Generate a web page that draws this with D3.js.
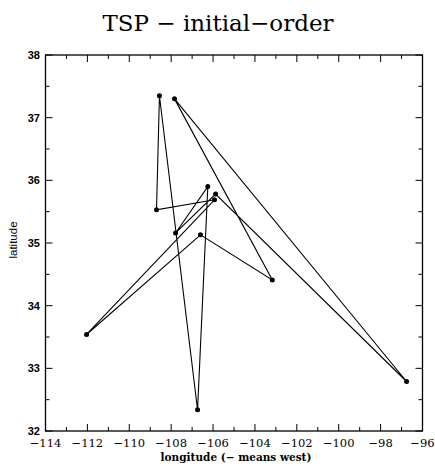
<!DOCTYPE html>
<html><head><meta charset="utf-8">
<script src="https://cdn.jsdelivr.net/npm/d3@7"></script>
<style>body{margin:0;background:#fff}</style>
</head><body>
<svg id="c" width="435" height="466"></svg>
<script>
// Tour order (closed cycle)
const lon = [-108.56, -108.70, -105.93, -112.04, -106.60, -103.17, -107.84, -96.76, -105.88, -107.79, -106.25, -106.74];
const lat = [37.35, 35.53, 35.69, 33.54, 35.13, 34.41, 37.30, 32.79, 35.78, 35.16, 35.90, 32.34];
const xMajor = [-114, -112, -110, -108, -106, -104, -102, -100, -98, -96];
const yMajor = [32, 33, 34, 35, 36, 37, 38];

const svg = d3.select("#c");
const L = 45.5, R = 422.5, T = 55, B = 431;
const x = d3.scaleLinear().domain([-114, -96]).range([L, R]);
const y = d3.scaleLinear().domain([32, 38]).range([B, T]);

const fmt = v => String(v).replace("-", "\u2212");

// frame
svg.append("rect").attr("x", L).attr("y", T).attr("width", R - L).attr("height", B - T)
  .attr("fill", "none").attr("stroke", "#000").attr("stroke-width", 1.3);

const g = svg.append("g");
const xMinor = d3.range(-113, -96, 2);
const yMinor = d3.range(32.5, 38, 1);
const maj = 7, mnr = 4;
xMajor.forEach(v => {
  g.append("line").attr("x1", x(v)).attr("x2", x(v)).attr("y1", B).attr("y2", B - maj).attr("stroke", "#000");
  g.append("line").attr("x1", x(v)).attr("x2", x(v)).attr("y1", T).attr("y2", T + maj).attr("stroke", "#000");
});
xMinor.forEach(v => {
  g.append("line").attr("x1", x(v)).attr("x2", x(v)).attr("y1", B).attr("y2", B - mnr).attr("stroke", "#000");
  g.append("line").attr("x1", x(v)).attr("x2", x(v)).attr("y1", T).attr("y2", T + mnr).attr("stroke", "#000");
});
yMajor.forEach(v => {
  g.append("line").attr("y1", y(v)).attr("y2", y(v)).attr("x1", L).attr("x2", L + maj).attr("stroke", "#000");
  g.append("line").attr("y1", y(v)).attr("y2", y(v)).attr("x1", R).attr("x2", R - maj).attr("stroke", "#000");
});
yMinor.forEach(v => {
  g.append("line").attr("y1", y(v)).attr("y2", y(v)).attr("x1", L).attr("x2", L + mnr).attr("stroke", "#000");
  g.append("line").attr("y1", y(v)).attr("y2", y(v)).attr("x1", R).attr("x2", R - mnr).attr("stroke", "#000");
});

// tick labels
svg.selectAll(".xl").data(xMajor).enter().append("text")
  .attr("x", d => x(d)).attr("y", 447).attr("text-anchor", "middle")
  .attr("font-family", "DejaVu Serif, serif").attr("font-size", 11.5)
  .text(fmt);
svg.selectAll(".yl").data(yMajor).enter().append("text")
  .attr("x", 40).attr("y", d => y(d) + 4).attr("text-anchor", "end")
  .attr("font-family", "Liberation Sans, Arial, sans-serif").attr("font-weight", "bold").attr("font-size", 11)
  .text(d => d);

// axis titles
svg.append("text").attr("x", 236).attr("y", 461).attr("text-anchor", "middle")
  .attr("font-family", "DejaVu Serif, serif").attr("font-weight", "bold").attr("font-size", 10.5)
  .text("longitude (\u2212 means west)");
svg.append("text").attr("transform", "translate(17,240) rotate(-90)").attr("text-anchor", "middle")
  .attr("font-family", "Liberation Sans, Arial, sans-serif").attr("font-size", 11.5)
  .text("latitude");

// title
svg.append("text").attr("x", 218).attr("y", 31).attr("text-anchor", "middle")
  .attr("font-family", "DejaVu Serif, serif").attr("font-size", 23)
  .text("TSP \u2212 initial\u2212order");

// tour
const pts = lon.map((v, i) => [v, lat[i]]);
const line = d3.line().x(d => x(d[0])).y(d => y(d[1])).curve(d3.curveLinearClosed);
svg.append("path").attr("d", line(pts)).attr("fill", "none").attr("stroke", "#000").attr("stroke-width", 1.1);
svg.selectAll(".pt").data(pts).enter().append("circle")
  .attr("cx", d => x(d[0])).attr("cy", d => y(d[1])).attr("r", 2.5).attr("fill", "#000");
</script>
</body></html>
